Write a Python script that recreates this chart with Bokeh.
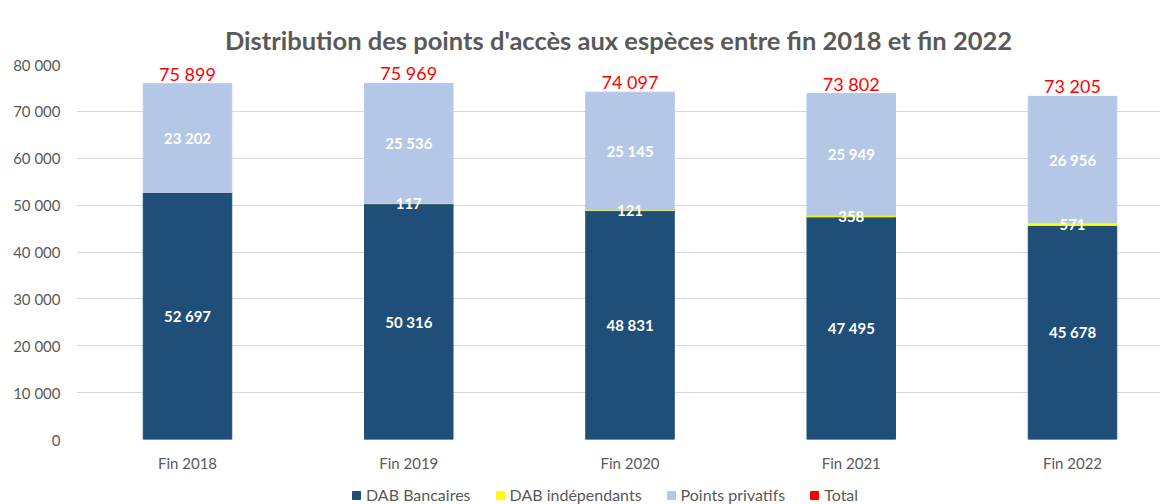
from bokeh.plotting import figure
from bokeh.layouts import column
from bokeh.models import (ColumnDataSource, Range1d, FixedTicker, Legend, LegendItem)
from bokeh.core.properties import value
from bokeh.embed import file_html
from bokeh.resources import INLINE

categories = ["Fin 2018", "Fin 2019", "Fin 2020", "Fin 2021", "Fin 2022"]
dab_bancaires = [52697, 50316, 48831, 47495, 45678]
dab_independants = [0, 117, 121, 358, 571]
points_privatifs = [23202, 25536, 25145, 25949, 26956]
totals = [75899, 75969, 74097, 73802, 73205]
y_ticks = [0, 10000, 20000, 30000, 40000, 50000, 60000, 70000, 80000]
series_names = ["DAB Bancaires", "DAB indépendants", "Points privatifs", "Total"]

FONT = "Lato"
GREY = "#595959"
C_BANC = "#1f4e79"
C_IND = "#ffff00"
C_PRIV = "#b4c7e7"
C_TOT = "#ff0000"
COLORS = [C_BANC, C_IND, C_PRIV, C_TOT]


def fmt(v):
    return f"{v:,}".replace(",", " ")


xs = list(range(len(categories)))
b0 = [0] * len(xs)
b1 = dab_bancaires
b2 = [a + b for a, b in zip(dab_bancaires, dab_independants)]
b3 = [a + b for a, b in zip(b2, points_privatifs)]

src = ColumnDataSource(dict(
    x=xs, b0=b0, b1=b1, b2=b2, b3=b3, tot=totals,
    lab_banc=[fmt(v) for v in dab_bancaires],
    lab_ind=[fmt(v) if v else "" for v in dab_independants],
    lab_priv=[fmt(v) for v in points_privatifs],
    lab_tot=[fmt(v) for v in totals],
    y_banc=[v / 2 for v in dab_bancaires],
    y_ind=[a + b / 2 for a, b in zip(dab_bancaires, dab_independants)],
    y_priv=[a + b / 2 for a, b in zip(b2, points_privatifs)],
))

p = figure(width=1160, height=474, output_backend="svg", toolbar_location=None,
           x_range=Range1d(-0.5017, 4.3977), y_range=Range1d(0, 80000),
           min_border_left=76, min_border_right=0, min_border_top=64,
           min_border_bottom=34)
p.outline_line_color = None
p.background_fill_color = "white"

p.title.text = "Distribution des points d'accès aux espèces entre fin 2018 et fin 2022"
p.title.text_font = FONT
p.title.text_font_size = "25.5px"
p.title.text_font_style = "bold"
p.title.text_color = GREY
p.title.align = "center"
p.title.standoff = 20

W = 0.4
p.vbar(x="x", bottom="b0", top="b1", width=W, source=src, fill_color=C_BANC, line_color=C_BANC)
p.vbar(x="x", bottom="b1", top="b2", width=W, source=src, fill_color=C_IND, line_color=C_IND)
p.vbar(x="x", bottom="b2", top="b3", width=W, source=src, fill_color=C_PRIV, line_color=C_PRIV)

for ycol, tcol in [("y_banc", "lab_banc"), ("y_ind", "lab_ind"), ("y_priv", "lab_priv")]:
    p.text(x="x", y=ycol, text=tcol, source=src, text_color="white",
           text_font=value(FONT), text_font_size="15px", text_font_style="bold",
           text_align="center", text_baseline="middle")

p.text(x="x", y="tot", text="lab_tot", source=src, text_color=C_TOT,
       text_font=value(FONT), text_font_size="18px",
       text_align="center", text_baseline="bottom", y_offset=1)

# axes
p.xaxis.ticker = FixedTicker(ticks=xs)
p.xaxis.major_label_overrides = {i: c for i, c in zip(xs, categories)}
p.yaxis.ticker = FixedTicker(ticks=y_ticks)
p.yaxis.major_label_overrides = {t: fmt(t) for t in y_ticks}
for ax in (p.xaxis, p.yaxis):
    ax.axis_line_color = None
    ax.major_tick_line_color = None
    ax.minor_tick_line_color = None
    ax.major_tick_out = 0
    ax.major_tick_in = 0
    ax.major_label_text_font = FONT
    ax.major_label_text_font_size = "15px"
    ax.major_label_text_color = GREY
p.xaxis.major_label_standoff = 14
p.yaxis.major_label_standoff = 16
p.xgrid.grid_line_color = None
p.ygrid.grid_line_color = "#d9d9d9"
p.ygrid.grid_line_width = 1

# legend strip
lf = figure(width=1160, height=30, output_backend="svg", toolbar_location=None,
            x_range=Range1d(0, 1), y_range=Range1d(0, 1),
            x_axis_location=None, y_axis_location=None,
            min_border_left=0, min_border_right=0, min_border_top=0, min_border_bottom=0)
lf.outline_line_color = None
lf.xgrid.grid_line_color = None
lf.ygrid.grid_line_color = None
items = []
for name, col in zip(series_names, COLORS):
    r = lf.vbar(x=[5], top=[1], bottom=[0], width=0.1, fill_color=col, line_color=col)
    items.append(LegendItem(label=name, renderers=[r]))
legend = Legend(items=items, orientation="horizontal", location=(275, 0),
                label_text_font=FONT, label_text_font_size="16px", label_text_color=GREY,
                glyph_width=10, glyph_height=10, spacing=24, label_standoff=5,
                border_line_color=None, background_fill_alpha=0, padding=2, margin=0)
lf.add_layout(legend, "center")

layout = column(p, lf, spacing=0)
open("out.html", "w").write(file_html(layout, INLINE))
